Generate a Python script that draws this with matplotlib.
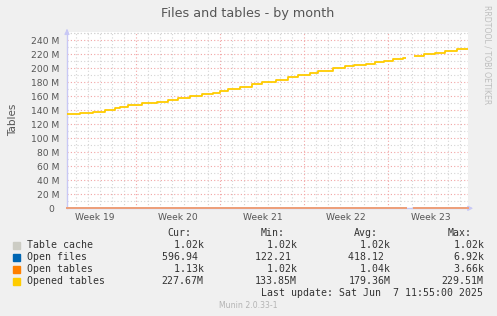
import numpy as np
import matplotlib
matplotlib.use("Agg")
import matplotlib.pyplot as plt

# days relative to the start of Week 20 (step start positions)
days = [-5.8, -4.7, -3.6, -2.6, -1.8, -1.4, -0.7, 0.5, 1.7, 2.6, 3.5, 4.5,
        5.5, 6.4, 7.0, 7.6, 8.6, 9.6, 10.5, 11.6, 12.6, 13.5, 14.5, 15.1,
        16.4, 17.4, 18.1, 19.1, 19.9, 20.6, 21.4, 22.2, 22.5, 23.1, 24.0,
        24.9, 25.7, 26.7, 27.6]
opened_tables = [134.3, 135.7, 137.0, 140.0, 142.9, 145.0, 147.0, 150.0,
                 152.3, 154.3, 157.0, 160.2, 162.8, 165.0, 167.0, 170.0,
                 173.0, 177.0, 180.0, 182.8, 187.0, 190.9, 193.7, 196.5,
                 200.4, 202.8, 204.3, 206.0, 208.5, 210.0, 212.8, 214.3,
                 np.nan, 217.6, 220.0, 221.9, 224.3, 227.0, 227.7]  # millions
table_cache = 1020.0
open_files = 418.0
open_tables = 1040.0

week_labels = ["Week 19", "Week 20", "Week 21", "Week 22", "Week 23"]
week_centers = [-3.5, 3.5, 10.5, 17.5, 24.5]
week_starts = [0, 7, 14, 21]
yticks = np.arange(0, 241e6, 20e6)
ylabels = ["0\u2002"] + [f"{int(v/1e6)} M" for v in yticks[1:]]

names = ["Table cache", "Open files", "Open tables", "Opened tables"]
colors = ["#CCCCC4", "#0066B3", "#FF8000", "#FFCC00"]
cur = ["  1.02k", "596.94 ", "  1.13k", "227.67M"]
mn = ["  1.02k", "122.21 ", "  1.02k", "133.85M"]
avg = ["  1.02k", "418.12 ", "  1.04k", "179.36M"]
mx = ["  1.02k", "  6.92k", "  3.66k", "229.51M"]

BG = "#F0F0F0"
TXT = "#555555"
MGRID = "#F2A5A5"
GRID = "#D4D4D4"
AXIS = "#C8C8F5"

W, H = 497, 316
fig = plt.figure(figsize=(W / 100, H / 100), dpi=100, facecolor=BG)
ax = fig.add_axes([67 / W, 1 - 208.3 / H, 401 / W, 176 / H], facecolor="white")

x0, x1 = -5.78, 27.64
ax.set_xlim(x0, x1)
ax.set_ylim(0, 251.4e6)

# grid
for d in range(-5, 28):
    if d in week_starts:
        continue
    ax.axvline(d, color=GRID, lw=0.8, ls=(0, (1, 2)), zorder=1)
for v in np.arange(10e6, 251e6, 20e6):
    ax.axhline(v, color=GRID, lw=0.8, ls=(0, (1, 2)), zorder=1)
ax.axhline(250e6, color=GRID, lw=0.8, ls=(0, (1, 2)), zorder=1)
for d in week_starts:
    ax.axvline(d, color=MGRID, lw=0.8, ls=(0, (1, 2)), zorder=2)
for v in yticks[1:]:
    ax.axhline(v, color=MGRID, lw=0.8, ls=(0, (1, 2)), zorder=2)

d = np.array(days)
vals = np.array(opened_tables) * 1e6
mask = np.where(np.isnan(vals), np.nan, 1.0)
ax.plot(d, table_cache * mask, color=colors[0], lw=1.1, drawstyle="steps-post",
        zorder=3, clip_on=False)
ax.plot(d, open_files * mask, color=colors[1], lw=1.1, drawstyle="steps-post",
        zorder=3, clip_on=False)
ax.plot(d, open_tables * mask, color="#F2A07A", lw=1.4, drawstyle="steps-post",
        zorder=4, clip_on=False)
ax.plot(d, vals, color=colors[3], lw=1.3, drawstyle="steps-post", zorder=5,
        solid_capstyle="butt")

for s in ["top", "right"]:
    ax.spines[s].set_visible(False)
ax.spines["left"].set_color(AXIS)
ax.spines["bottom"].set_color(AXIS)
ax.spines["left"].set_linewidth(1.0)
ax.spines["bottom"].set_linewidth(1.0)
ax.spines["bottom"].set_zorder(2.5)
ax.annotate("", xy=(0, 1.035), xytext=(0, 0.99), xycoords="axes fraction",
            arrowprops=dict(arrowstyle="-|>", color=AXIS, lw=1.0, mutation_scale=7),
            annotation_clip=False)
ax.annotate("", xy=(1.02, 0), xytext=(0.99, 0), xycoords="axes fraction",
            arrowprops=dict(arrowstyle="-|>", color=AXIS, lw=1.0, mutation_scale=7),
            annotation_clip=False)

ax.set_yticks(yticks)
ax.set_yticklabels(ylabels)
ax.set_xticks(week_centers)
ax.set_xticklabels(week_labels)
ax.tick_params(axis="both", length=0, labelsize=6.6, colors=TXT)
ax.tick_params(axis="y", pad=5.6)
ax.tick_params(axis="x", pad=3.5)
ax.set_ylabel("Tables", fontsize=7.5, color=TXT, labelpad=9)

fig.text(247.5 / W, 1 - 13 / H, "Files and tables - by month", ha="center",
         va="center", fontsize=9.2, color=TXT)
fig.text(487 / W, 1 - 5 / H, "RRDTOOL / TOBI OETIKER", rotation=-90, ha="center",
         va="top", fontsize=5.6, color="#BEBEBE")

# legend
mono = "DejaVu Sans Mono"
fs = 7.1
cw = 5.97
cols = [161.7, 255.0, 348.3, 441.7]
heads = ["Cur:", "Min:", "Avg:", "Max:"]
for cx, h in zip(cols, heads):
    fig.text((cx + cw) / W, 1 - 233.3 / H, h, family=mono, fontsize=fs,
             color="#333333", va="center", ha="left")
rows_y = [245.3, 257.3, 269.5, 281.3]
for i, y in enumerate(rows_y):
    fig.patches.append(plt.Rectangle((13 / W, 1 - (y + 3.2) / H), 6.5 / W, 6.5 / H,
                                     transform=fig.transFigure, color=colors[i]))
    fig.text(26.7 / W, 1 - y / H, names[i], family=mono, fontsize=fs,
             color="#333333", va="center", ha="left")
    for cx, v in zip(cols, [cur[i], mn[i], avg[i], mx[i]]):
        fig.text(cx / W, 1 - y / H, v, family=mono, fontsize=fs,
                 color="#333333", va="center", ha="left")
fig.text(483 / W, 1 - 293.3 / H, "Last update: Sat Jun  7 11:55:00 2025",
         family=mono, fontsize=fs, color="#333333", va="center", ha="right")
fig.text(248.7 / W, 1 - 305.5 / H, "Munin 2.0.33-1", fontsize=5.6,
         color="#B4B4B4", va="center", ha="center")

fig.savefig("out.png", dpi=100, facecolor=BG)
